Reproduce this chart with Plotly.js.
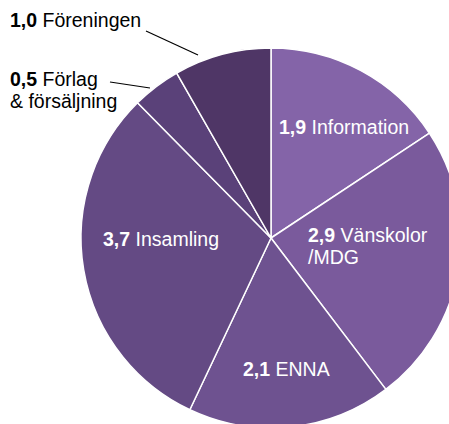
<!DOCTYPE html>
<html>
<head>
<meta charset="utf-8">
<script src="https://cdn.plot.ly/plotly-3.0.1.min.js"></script>
<style>
html,body{margin:0;padding:0;overflow:hidden;background:#fff;}
#chart{width:461px;height:428px;}
</style>
</head>
<body>
<div id="chart"></div>
<script>
// Data
var labels = ["Information", "Vänskolor\n/MDG", "ENNA", "Insamling", "Förlag\n& försäljning", "Föreningen"];
var values = [1.9, 2.9, 2.1, 3.7, 0.5, 1.0];
var colors = ["#8464a8", "#7a5a9c", "#6e5290", "#644a84", "#5a4179", "#4f3666"];

// Layout helpers (pixel geometry)
var W = 461, H = 428;
function px(x){ return x / W; }
function py(y){ return 1 - y / H; }
// label anchor: left x, first-line baseline y, text colour
var labelPos = [
  {x: 279, y: 134, c: "#ffffff"},
  {x: 308, y: 242, c: "#ffffff"},
  {x: 243, y: 376, c: "#ffffff"},
  {x: 103, y: 246, c: "#ffffff"},
  {x: 10,  y: 86,  c: "#000000"},
  {x: 10,  y: 27,  c: "#000000"}
];
var lineGap = 22;
var leaders = [
  null, null, null, null,
  [110, 82, 150, 88],
  [146, 31, 198, 55]
];

var annotations = [];
var shapes = [];
labels.forEach(function(lab, i){
  var lines = lab.split("\n");
  var num = values[i].toFixed(1).replace(".", ",");
  lines.forEach(function(t, k){
    var txt = (k === 0) ? "<b>" + num + "</b> " + t : t;
    annotations.push({
      xref: "paper", yref: "paper",
      x: px(labelPos[i].x - 1), y: py(labelPos[i].y + k * lineGap - 7),
      xanchor: "left", yanchor: "middle",
      text: txt, showarrow: false, borderpad: 0,
      font: {family: "Liberation Sans, Arial, sans-serif", size: 19.5, color: labelPos[i].c}
    });
  });
  if (leaders[i]) {
    var L = leaders[i];
    shapes.push({type: "line", xref: "paper", yref: "paper",
      x0: px(L[0]), y0: py(L[1]), x1: px(L[2]), y1: py(L[3]),
      line: {color: "#000000", width: 1.2}});
  }
});

var trace = {
  type: "pie",
  labels: labels.map(function(s){ return s.replace("\n", " "); }),
  values: values,
  sort: false,
  direction: "clockwise",
  rotation: 0,
  textinfo: "none",
  hoverinfo: "skip",
  marker: {colors: colors, line: {color: "#ffffff", width: 1.5}},
  domain: {x: [81 / W, 1], y: [0, 380 / H]},
  showlegend: false
};

var layout = {
  width: W, height: H,
  margin: {l: 0, r: 0, t: 0, b: 0},
  paper_bgcolor: "#ffffff",
  showlegend: false,
  annotations: annotations,
  shapes: shapes
};

Plotly.newPlot("chart", [trace], layout, {displayModeBar: false, staticPlot: true});
</script>
</body>
</html>
